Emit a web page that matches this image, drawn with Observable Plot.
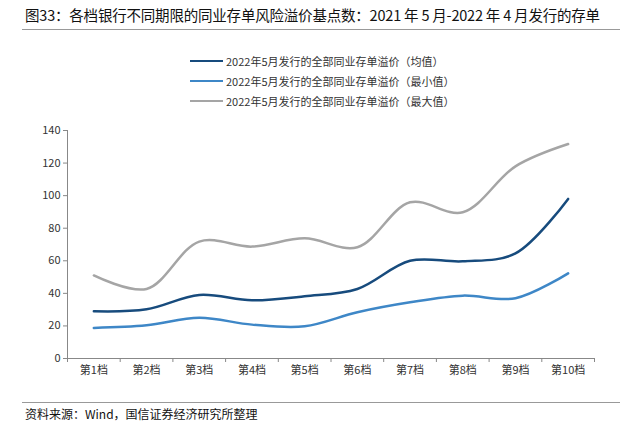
<!DOCTYPE html>
<html>
<head>
<meta charset="utf-8">
<script src="https://cdn.jsdelivr.net/npm/d3@7"></script>
<script src="https://cdn.jsdelivr.net/npm/@observablehq/plot@0.6"></script>
<style>
  body { margin: 0; background: #fff; font-family: "Noto Sans CJK SC", sans-serif; }
  #wrap { position: relative; width: 631px; height: 430px; overflow: hidden; }
  #title { position: absolute; left: 25px; top: 4px; font-size: 14.5px; color: #111; white-space: nowrap; letter-spacing: -0.2px; }
  #tline { position: absolute; left: 22px; top: 29px; width: 598px; height: 0; border-top: 1px solid #999; }
  #legend { position: absolute; left: 190px; top: 51px; font-size: 11px; color: #333; }
  .li { display: flex; align-items: center; height: 20px; }
  .sw { width: 33px; height: 0; margin-right: 3px; }
  #chart { position: absolute; left: 0; top: 110px; }
  #bline { position: absolute; left: 22px; top: 402px; width: 598px; height: 0; border-top: 1px solid #999; }
  #caption { position: absolute; left: 25px; top: 405px; font-size: 12px; color: #111; white-space: nowrap; }
</style>
</head>
<body>
<div id="wrap">
  <div id="title">图33：各档银行不同期限的同业存单风险溢价基点数：2021 年 5 月-2022 年 4 月发行的存单</div>
  <div id="tline"></div>
  <div id="legend"></div>
  <div id="chart"></div>
  <div id="bline"></div>
  <div id="caption">资料来源：Wind，国信证券经济研究所整理</div>
</div>
<script>
const categories = ["第1档","第2档","第3档","第4档","第5档","第6档","第7档","第8档","第9档","第10档"];
const seriesNames = [
  "2022年5月发行的全部同业存单溢价（均值）",
  "2022年5月发行的全部同业存单溢价（最小值）",
  "2022年5月发行的全部同业存单溢价（最大值）"
];
const meanVals = [29, 30.2, 39, 35.7, 38.2, 42.7, 60, 59.7, 64.5, 98];
const minVals  = [18.8, 20.4, 25, 20.8, 19.8, 28.4, 34.5, 38.6, 37, 52.3];
const maxVals  = [51, 42.7, 71.8, 68.7, 73.8, 68.3, 95.9, 89.8, 118, 131.7];
const yTicks = [0, 20, 40, 60, 80, 100, 120, 140];
const colors = ["#174b7d", "#3e87c7", "#a5a5a5"];

const allSeries = [meanVals, minVals, maxVals];
const data = [];
allSeries.forEach((vals, s) => vals.forEach((v, i) => data.push({i, v, s: seriesNames[s]})));
const idx = categories.map((_, i) => i);
const bounds = categories.map((_, i) => i - 0.5).concat([categories.length - 0.5]);

// legend
const leg = document.getElementById("legend");
seriesNames.forEach((n, k) => {
  const row = document.createElement("div");
  row.className = "li";
  row.innerHTML = `<span class="sw" style="border-top:2.5px solid ${colors[k]}"></span><span>${n}</span>`;
  leg.appendChild(row);
});

const chart = Plot.plot({
  width: 631,
  height: 290,
  marginLeft: 67,
  marginRight: 37,
  marginTop: 20,
  marginBottom: 42,
  style: { fontFamily: "'Noto Sans CJK SC', sans-serif", fontSize: "11px", color: "#333", background: "#fff" },
  x: { type: "linear", domain: [-0.5, categories.length - 0.5], axis: null },
  y: { domain: [0, 140], axis: null },
  color: { domain: seriesNames, range: colors },
  marks: [
    Plot.axisY({ ticks: yTicks, tickSize: 4, tickPadding: 3, label: null, stroke: "#888", fill: "#333" }),
    Plot.ruleX([-0.5], { stroke: "#888" }),
    Plot.ruleY([0], { stroke: "#888" }),
    Plot.axisX({ ticks: bounds, tickFormat: () => "", tickSize: 4, label: null, stroke: "#888" }),
    Plot.axisX({ ticks: idx, tickFormat: i => categories[i], tickSize: 0, tickPadding: 8, label: null, fill: "#333" }),
    Plot.line(data, { x: "i", y: "v", z: "s", stroke: "s", strokeWidth: 2.5, curve: "catmull-rom" })
  ]
});
document.getElementById("chart").appendChild(chart);
</script>
</body>
</html>
